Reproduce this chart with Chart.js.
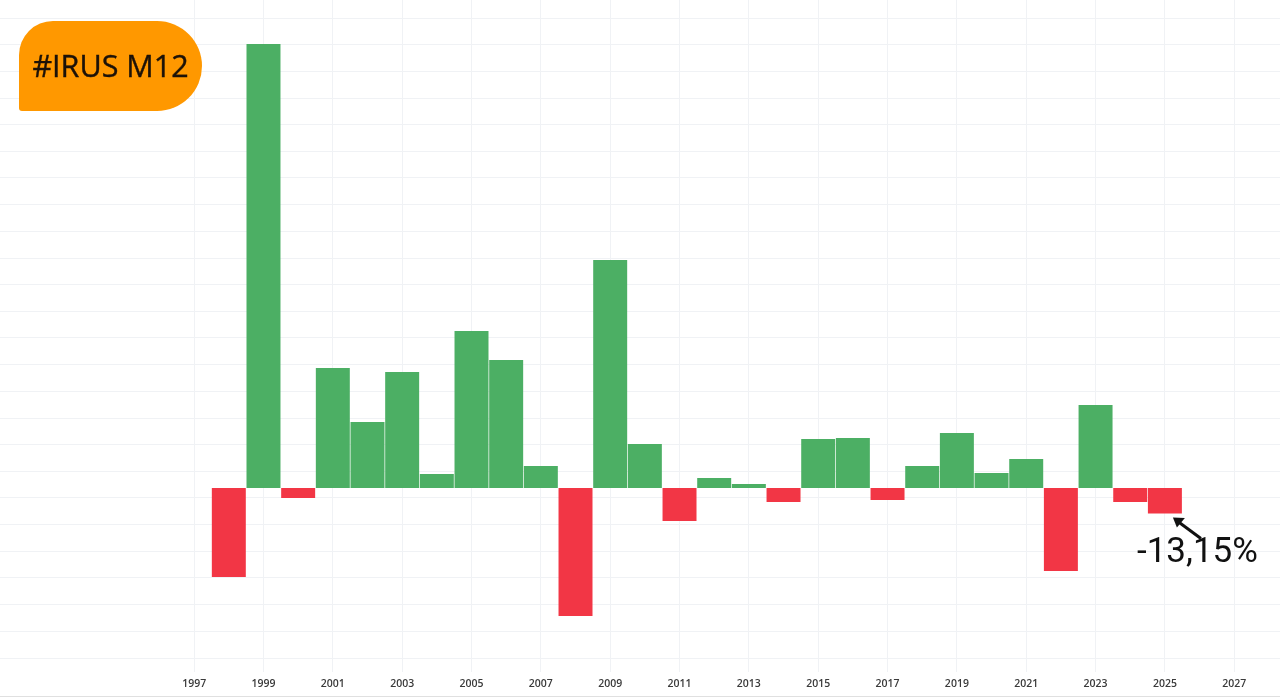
<!DOCTYPE html>
<html>
<head>
<meta charset="utf-8">
<title>#IRUS M12</title>
<script src="https://cdn.jsdelivr.net/npm/chart.js@4/dist/chart.umd.min.js"></script>
<style>
    html, body { margin: 0; padding: 0; background: #fff; overflow: hidden; }
    #wrap { position: relative; width: 1280px; height: 699px; }
    #wrap::after { content: ''; position: absolute; left: 0; right: 0; top: 696px; height: 1px; background: #e0e0e0; }
    canvas { position: absolute; left: 0; top: 0; }
    #badge {
        position: absolute; left: 19px; top: 21px; width: 183px; height: 90px;
        background: #ff9800; color: #1c1208;
        border-radius: 34px 45px 45px 3px;
        font: 500 30.5px/88px "Open Sans", sans-serif; text-align: center;
        -webkit-text-stroke: 0.4px #1c1208;
    }
    #note {
        position: absolute; left: 1137px; top: 526px;
        font: 400 35px/50px Roboto, sans-serif; color: #111;
        white-space: nowrap;
    }
</style>
</head>
<body>
<div id="wrap">
    <canvas id="chart" width="1280" height="699"></canvas>
    <div id="badge">#IRUS M12</div>
    <div id="note">-13,15%</div>
</div>
<script>
const years = [1998, 1999, 2000, 2001, 2002, 2003, 2004, 2005, 2006, 2007, 2008, 2009, 2010, 2011,
    2012, 2013, 2014, 2015, 2016, 2017, 2018, 2019, 2020, 2021, 2022, 2023, 2024, 2025];
const returns = [-45.9, 229, -5.2, 61.9, 34, 59.8, 7.2, 81, 66, 11.3, -66, 117.6, 22.7, -17,
    5.2, 2.1, -7.2, 25.3, 25.8, -6.2, 11.3, 28.4, 7.7, 15, -42.8, 42.8, -7.2, -13.15];
const yearTicks = [1997, 1999, 2001, 2003, 2005, 2007, 2009, 2011, 2013, 2015, 2017, 2019, 2021, 2023, 2025, 2027];
const gridValues = [-87.7, -73.9, -60.1, -46.4, -32.6, -18.9, -5.1, 8.6, 22.4, 36.1, 49.9, 63.6, 77.4,
    91.1, 104.9, 118.6, 132.4, 146.1, 159.9, 173.6, 187.4, 201.1, 214.9, 228.6, 242.4];

const GREEN = '#4caf64';
const RED = '#f23645';
const GRID = '#f0f2f5';

// arrow from the label up to the last bar
const arrowPlugin = {
    id: 'arrow',
    afterDatasetsDraw(chart) {
        const last = years.length - 1;
        const tipX = chart.scales.x.getPixelForValue(years[last]) + 8;
        const tipY = chart.scales.y.getPixelForValue(returns[last]) + 4;
        const ctx = chart.ctx;
        ctx.save();
        ctx.strokeStyle = '#111';
        ctx.fillStyle = '#111';
        ctx.lineWidth = 3;
        ctx.beginPath();
        ctx.moveTo(tipX + 28, tipY + 21);
        ctx.lineTo(tipX + 5, tipY + 4);
        ctx.stroke();
        ctx.beginPath();
        ctx.moveTo(tipX, tipY);
        ctx.lineTo(tipX + 12, tipY + 0.5);
        ctx.lineTo(tipX + 4, tipY + 10);
        ctx.closePath();
        ctx.fill();
        ctx.restore();
    }
};

new Chart(document.getElementById('chart'), {
    type: 'bar',
    data: {
        datasets: [{
            data: years.map((y, i) => ({ x: y, y: returns[i] })),
            backgroundColor: returns.map(v => (v >= 0 ? GREEN : RED)),
            barPercentage: 0.98,
            categoryPercentage: 1
        }]
    },
    options: {
        responsive: false,
        animation: false,
        devicePixelRatio: 1,
        layout: { padding: 0 },
        plugins: { legend: { display: false }, tooltip: { enabled: false } },
        scales: {
            x: {
                type: 'linear',
                offset: false,
                min: 1991.4,
                max: 2028.32,
                afterBuildTicks(scale) {
                    scale.ticks = yearTicks.map(v => ({ value: v }));
                },
                afterFit(scale) { scale.height = 27; },
                grid: { color: GRID, drawTicks: false, offset: false },
                border: { display: false },
                ticks: {
                    autoSkip: false,
                    maxRotation: 0,
                    padding: 6,
                    color: '#3a3a3a',
                    font: { family: '"Open Sans", sans-serif', size: 10.5, weight: '600' },
                    callback: v => String(v)
                }
            },
            y: {
                min: -94.9,
                max: 251.7,
                afterBuildTicks(scale) {
                    scale.ticks = gridValues.map(v => ({ value: v }));
                },
                afterFit(scale) { scale.width = 0; },
                grid: { color: GRID, drawTicks: false },
                border: { display: false },
                ticks: { display: false }
            }
        }
    },
    plugins: [arrowPlugin]
});
</script>
</body>
</html>
